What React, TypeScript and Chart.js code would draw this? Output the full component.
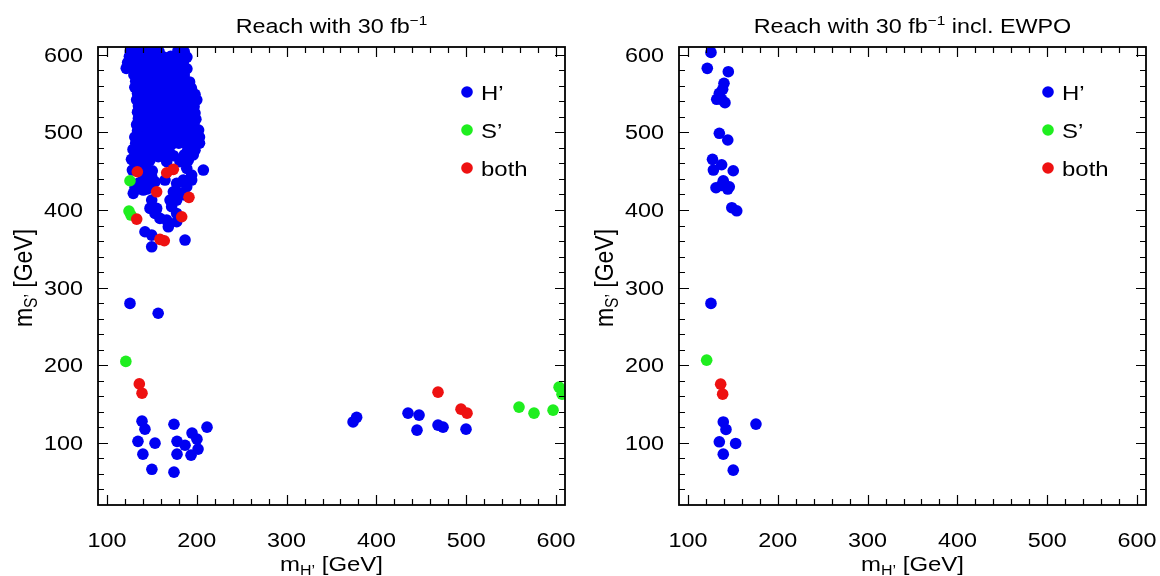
import React, { useEffect, useRef } from "react";
import { Chart, registerables } from "chart.js";

Chart.register(...registerables);

// ---- axes ----
const X_MIN = 90;
const X_MAX = 610;
const Y_MIN = 20;
const Y_MAX = 610;
const X_MAJOR = [100, 200, 300, 400, 500, 600];
const Y_MAJOR = [100, 200, 300, 400, 500, 600];
const X_TICK_LABELS = ["100", "200", "300", "400", "500", "600"];
const Y_TICK_LABELS = ["100", "200", "300", "400", "500", "600"];
const MINOR_STEP = 20;

const TITLE_LEFT = "Reach with 30 fb";
const TITLE_RIGHT_SUFFIX = " incl. EWPO";
const LEGEND_LABELS = ["H\u2019", "S\u2019", "both"];

// ---- data: left panel (all points) ----
const LEFT_H: number[][] = [
  // dense cluster
  [126,605],[134,605],[142,604],[150,605],[158,604],[179,605],[186,604],
  [125,598],[131,597],[139,598],[147,597],[155,598],[163,597],[171,598],[183,598],[189,597],
  [123,590],[130,590],[137,589],[145,590],[153,590],[161,589],[169,590],[177,590],[185,590],
  [121.5,582.5],[129,582],[136,581],[144,582],[152,582],[160,581],[168,582],[176,582],[184,581],[189,582],
  [130,574],[138,574],[146,573],[154,574],[162,574],[170,573],[178,574],[186,574],
  [132,566],[140,566],[148,565],[156,566],[164,566],[172,565],[180,566],[188,566],[192,565],
  [131,558],[139,558],[147,557],[155,558],[163,558],[171,557],[179,558],[187,558],[194,557],
  [134,550],[142,550],[150,549],[158,550],[166,550],[174,549],[182,550],[190,550],[198,549],
  [133,542],[141,542],[149,541],[157,542],[165,542],[173,541],[181,542],[189,542],[200,542],
  [135,534],[143,534],[151,533],[159,534],[167,534],[175,533],[183,534],[191,534],[197,533],
  [134,526],[142,526],[150,525],[158,526],[166,526],[174,525],[182,526],[190,526],[198,525],
  [135,518],[143,518],[151,517],[159,518],[167,518],[175,517],[183,518],[191,518],[199,517],
  [133,510],[141,510],[149,509],[157,510],[165,510],[173,509],[181,510],[189,510],[197,509],
  [134,502],[142,502],[150,501],[158,502],[166,502],[174,501],[182,502],[190,502],[198,501],[202,503],
  [131,494],[139,494],[147,493],[155,494],[163,494],[171,493],[179,494],[187,494],[195,493],[203,494],
  [132,486],[140,486],[148,485],[156,486],[164,486],[172,485],[180,486],[188,486],[196,485],[203,486],
  [129,478],[137,478],[145,477],[153,478],[161,478],[169,477],[190,478],[198,477],
  [133,471],[141,471],[150,470],[158,471],[166,471],[174,470],[186,471],[196,471],
  // lower edge of cluster
  [129.3,464.4],[138.6,460.1],[147.9,464.4],[157.2,468.6],[166.5,462.2],[181.3,462.2],[190.6,464.4],
  [207.3,451.5],[188.8,453.7],[194.3,445],[146,451.5],[140.4,445],[149.8,442.9],[134.9,434.3],
  [144.2,434.3],[153.5,436.4],[164.6,438.6],[129.3,421.5],[140.4,425.7],[146,430],[177.6,434.3],
  [185,438.6],[194.3,438.6],[188.8,430],[173.9,423.5],[181.3,421.5],[186.9,419.3],[149.8,412.8],
  [170.2,412.8],[177.6,412.8],[147.9,402.1],[155.3,402.1],[153.5,395.6],[172,404.2],[177.6,395.6],
  [159,389.2],[166.5,387],[168.3,378.4],[177.6,384.9],[142.3,372],[149.8,367.7],[186.9,361.3],
  [149.8,352.6],
  [127.3,465.3],[137.5,458.3],[128.3,451.5],[150.4,450.6],[139.3,437.7],[131.2,428.7],[137.5,431.8],
  [144.3,427],[148.8,403],[154.3,399],
  // isolated
  [125.6,279.7],[157,267],
  // low-mass group
  [139,128],[142.3,117.7],[134.5,102],[153.5,99.7],[140,85.5],[150,66],[174.6,124],[194.7,112.6],
  [211.4,120.3],[200.2,104.8],[178,102],[186.9,97],[201.4,92],[178,85.5],[193.6,84.2],[174.6,62.3],
  // high-mass group
  [374,127],[378,133],[435.2,138.3],[447.5,135.8],[445.2,116.4],[468.6,122.9],[474.2,120.3],[499.8,117.7],
];
const LEFT_S: number[][] = [
  [121,205],[125.6,437.7],[124.5,398.7],[126.7,393.5],
  [558.8,146.1],[575.5,138.3],[596.7,142.2],[603.4,171.8],[606.7,162.8],
];
const LEFT_BOTH: number[][] = [
  [136,176],[139,164],[133.8,449.3],[166.5,448],[173.9,452.4],[155.3,423.5],[191.3,416.3],
  [133.1,388.3],[183.2,391.3],[159,362.2],[163.8,360.4],
  [468.6,165.4],[494.2,143.5],[500.9,138.3],
];

// ---- data: right panel (incl. EWPO) ----
const RIGHT_H: number[][] = [
  [125.6,603],[121.5,582.5],[144.9,578.2],[140.1,563.2],[138.6,555.5],[134.9,550.3],[132,542.6],
  [137.5,542.6],[141.2,538.3],[134.9,498.8],[144.3,490.2],[127.3,465.3],[137.5,458.3],[128.3,451.5],
  [150.4,450.6],[139.3,437.7],[131.2,428.7],[137.5,431.8],[146,430],[144.3,427],[148.8,403],[154.3,399],
  [125.6,279.7],
  [139.3,127],[142.3,117.3],[134.9,101.4],[153.1,99.3],[139.3,85.5],[150.4,64.9],[175.7,124.2],
];
const RIGHT_S: number[][] = [[120.8,206.6]];
const RIGHT_BOTH: number[][] = [[136.4,175.7],[138.6,162.8]];

const BLUE = "#0000f2";
const GREEN = "#1fee1f";
const RED = "#ee1111";
const FONT = "'Liberation Sans', Arial, Helvetica, sans-serif";
const STRETCH = 1.14;

type Part = { t: string; size: number; dy: number };

function partsWidth(ctx: CanvasRenderingContext2D, parts: Part[]) {
  return parts.map((p) => {
    ctx.font = `${p.size}px ${FONT}`;
    return ctx.measureText(p.t).width;
  });
}

// draws text horizontally stretched; align refers to the anchor x
function drawParts(
  ctx: CanvasRenderingContext2D,
  parts: Part[],
  x: number,
  y: number,
  align: "center" | "left" | "right"
) {
  const widths = partsWidth(ctx, parts);
  const total = widths.reduce((a, b) => a + b, 0);
  ctx.save();
  ctx.translate(x, y);
  ctx.scale(STRETCH, 1);
  let cx = align === "center" ? -total / 2 : align === "right" ? -total : 0;
  ctx.textAlign = "left";
  ctx.textBaseline = "alphabetic";
  parts.forEach((p, i) => {
    ctx.font = `${p.size}px ${FONT}`;
    ctx.fillText(p.t, cx, p.dy);
    cx += widths[i];
  });
  ctx.restore();
}

function makeDecor(titleParts: Part[]) {
  return {
    id: "decor",
    afterDatasetsDraw(chart: any) {
      const { ctx, chartArea: a, scales } = chart;
      const xs = scales.x;
      const ys = scales.y;
      ctx.save();
      ctx.strokeStyle = "#000";
      ctx.lineWidth = 1.2;
      ctx.beginPath();
      for (let v = X_MAJOR[0]; v <= X_MAJOR[X_MAJOR.length - 1]; v += MINOR_STEP) {
        const px = Math.round(xs.getPixelForValue(v)) + 0.5;
        const len = X_MAJOR.includes(v) ? 10 : 6;
        ctx.moveTo(px, a.bottom);
        ctx.lineTo(px, a.bottom - len);
        ctx.moveTo(px, a.top);
        ctx.lineTo(px, a.top + len);
      }
      for (let v = Y_MIN + MINOR_STEP; v <= Y_MAJOR[Y_MAJOR.length - 1]; v += MINOR_STEP) {
        const py = Math.round(ys.getPixelForValue(v)) + 0.5;
        const len = Y_MAJOR.includes(v) ? 10 : 6;
        ctx.moveTo(a.left, py);
        ctx.lineTo(a.left + len, py);
        ctx.moveTo(a.right, py);
        ctx.lineTo(a.right - len, py);
      }
      ctx.stroke();
      ctx.lineWidth = 1.8;
      ctx.strokeRect(a.left, a.top, a.right - a.left, a.bottom - a.top);

      ctx.fillStyle = "#000";
      // tick labels
      X_MAJOR.forEach((v, i) => {
        drawParts(ctx, [{ t: X_TICK_LABELS[i], size: 20.5, dy: 0 }], xs.getPixelForValue(v), a.bottom + 42, "center");
      });
      Y_MAJOR.forEach((v, i) => {
        drawParts(ctx, [{ t: Y_TICK_LABELS[i], size: 20.5, dy: 0 }], a.left - 15, ys.getPixelForValue(v) + 7, "right");
      });

      // legend
      const colors = [BLUE, GREEN, RED];
      const lx = a.left + 369;
      LEGEND_LABELS.forEach((lab, i) => {
        const ly = 92 + i * 38;
        ctx.fillStyle = colors[i];
        ctx.beginPath();
        ctx.arc(lx, ly, 5.8, 0, Math.PI * 2);
        ctx.fill();
        ctx.fillStyle = "#000";
        drawParts(ctx, [{ t: lab, size: 21, dy: 0 }], lx + 14, ly + 7.5, "left");
      });

      // title
      const cx = (a.left + a.right) / 2;
      drawParts(ctx, titleParts, cx, 33, "center");

      // x-axis title
      drawParts(
        ctx,
        [
          { t: "m", size: 21, dy: 0 },
          { t: "H\u2019", size: 14, dy: 4 },
          { t: " [GeV]", size: 21, dy: 0 },
        ],
        cx,
        571,
        "center"
      );

      // y-axis title (rotated)
      const yParts: Part[] = [
        { t: "m", size: 23, dy: 0 },
        { t: "S\u2019", size: 15.5, dy: 4 },
        { t: " [GeV]", size: 23, dy: 0 },
      ];
      const w = partsWidth(ctx, yParts).reduce((p, q) => p + q, 0);
      ctx.save();
      ctx.translate(a.left - 66, (a.top + a.bottom) / 2 + 2);
      ctx.scale(STRETCH, 1);
      ctx.rotate(-Math.PI / 2);
      ctx.textAlign = "left";
      ctx.textBaseline = "alphabetic";
      let px = -w / 2;
      yParts.forEach((p) => {
        ctx.font = `${p.size}px ${FONT}`;
        ctx.fillText(p.t, px, p.dy);
        px += ctx.measureText(p.t).width;
      });
      ctx.restore();
      ctx.restore();
    },
  };
}

function toXY(arr: number[][]) {
  return arr.map(([x, y]) => ({ x, y }));
}

function Panel(props: { h: number[][]; s: number[][]; both: number[][]; title: Part[]; leftW: number; padRight: number }) {
  const ref = useRef<HTMLCanvasElement | null>(null);
  useEffect(() => {
    if (!ref.current) return;
    const ds = (label: string, data: number[][], color: string, order: number) => ({
      label,
      data: toXY(data),
      backgroundColor: color,
      borderColor: color,
      pointRadius: 5.8,
      pointBorderWidth: 0,
      showLine: false,
      order,
      clip: 0,
    });
    const chart = new Chart(ref.current, {
      type: "scatter",
      data: {
        datasets: [
          ds("both", props.both, RED, 0),
          ds("S'", props.s, GREEN, 1),
          ds("H'", props.h, BLUE, 2),
        ],
      },
      options: {
        animation: false,
        responsive: false,
        layout: { padding: { left: 0, right: props.padRight, top: 47, bottom: 0 } },
        plugins: {
          legend: { display: false },
          tooltip: { enabled: false },
          title: { display: false },
        },
        scales: {
          x: {
            type: "linear",
            min: X_MIN,
            max: X_MAX,
            grid: { display: false, drawTicks: false },
            border: { display: false },
            ticks: { display: false },
            afterBuildTicks: (s: any) => {
              s.ticks = X_MAJOR.map((v) => ({ value: v }));
            },
            afterFit: (s: any) => {
              s.height = 71;
              s.paddingLeft = 0;
              s.paddingRight = 0;
            },
          },
          y: {
            type: "linear",
            min: Y_MIN,
            max: Y_MAX,
            grid: { display: false, drawTicks: false },
            border: { display: false },
            ticks: { display: false },
            afterBuildTicks: (s: any) => {
              s.ticks = Y_MAJOR.map((v) => ({ value: v }));
            },
            afterFit: (s: any) => {
              s.width = props.leftW;
              s.paddingTop = 0;
              s.paddingBottom = 0;
            },
          },
        },
      } as any,
      plugins: [makeDecor(props.title)],
    });
    return () => chart.destroy();
  }, []);
  return <canvas ref={ref} width={580} height={576} style={{ display: "block", width: 580, height: 576 }} />;
}

export default function App() {
  const titleL: Part[] = [
    { t: TITLE_LEFT, size: 20.5, dy: 0 },
    { t: "\u22121", size: 13.5, dy: -8 },
  ];
  const titleR: Part[] = [
    { t: TITLE_LEFT, size: 20.5, dy: 0 },
    { t: "\u22121", size: 13.5, dy: -8 },
    { t: TITLE_RIGHT_SUFFIX, size: 20.5, dy: 0 },
  ];
  return (
    <div style={{ position: "absolute", left: 0, top: 0, width: 1160, height: 576, background: "#fff", display: "flex" }}>
      <Panel h={LEFT_H} s={LEFT_S} both={LEFT_BOTH} title={titleL} leftW={98} padRight={15} />
      <Panel h={RIGHT_H} s={RIGHT_S} both={RIGHT_BOTH} title={titleR} leftW={99} padRight={14} />
    </div>
  );
}
